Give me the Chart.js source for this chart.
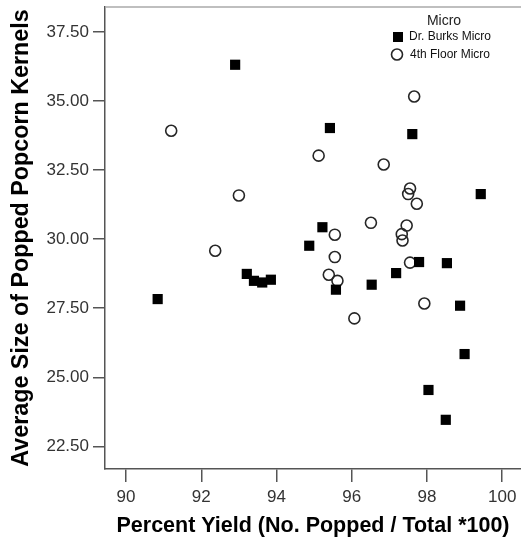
<!DOCTYPE html>
<html>
<head>
<meta charset="utf-8">
<script src="https://cdn.jsdelivr.net/npm/chart.js@4/dist/chart.umd.min.js"></script>
<style>
  body { margin: 0; background: #fff; }
  canvas { display: block; }
</style>
</head>
<body>
<canvas id="scatterCanvas" width="521" height="544"></canvas>
<script>
// Dr. Burks microwave
const burksX = [92.90, 95.42, 97.61, 99.43, 90.84, 93.21, 93.40, 93.62, 93.85, 94.87, 95.22, 95.58, 96.53, 97.18, 97.79, 98.53, 98.88, 99.00, 98.04, 98.50];
const burksY = [36.31, 34.02, 33.80, 31.63, 27.83, 28.74, 28.49, 28.43, 28.53, 29.76, 30.43, 28.17, 28.35, 28.77, 29.17, 29.13, 27.59, 25.84, 24.54, 23.46];

// 4th floor microwave
const floorX = [91.20, 93.00, 97.66, 95.12, 96.85, 97.55, 97.50, 97.73, 96.51, 97.46, 97.33, 97.35, 95.55, 95.55, 95.39, 95.62, 97.55, 97.93, 96.07, 92.37];
const floorY = [33.92, 31.58, 35.16, 33.02, 32.70, 31.83, 31.63, 31.28, 30.59, 30.49, 30.18, 29.95, 30.16, 29.35, 28.71, 28.49, 29.15, 27.67, 27.13, 29.58];

const seriesNames = ["Dr. Burks Micro", "4th Floor Micro"];
const xTicks = [90, 92, 94, 96, 98, 100];
const yTicks = [22.5, 25, 27.5, 30, 32.5, 35, 37.5];

const toPoints = (xs, ys) => xs.map((x, i) => ({ x: x, y: ys[i] }));

const FONT = "'Liberation Sans', Arial, sans-serif";

// keep the axes from reserving room for overhanging labels
function noPadding(scale) {
  scale.paddingLeft = 0;
  scale.paddingRight = 0;
  scale.paddingTop = 0;
  scale.paddingBottom = 0;
}

// legend box in the upper right corner of the plot
const microLegend = {
  id: 'microLegend',
  afterDatasetsDraw(chart) {
    const ctx = chart.ctx;
    const area = chart.chartArea;
    const ds = chart.data.datasets;
    ctx.save();
    ctx.fillStyle = '#222';
    ctx.textBaseline = 'middle';
    ctx.textAlign = 'center';
    ctx.font = '14px ' + FONT;
    ctx.fillText('Micro', area.right - 77, area.top + 14);

    ctx.textAlign = 'left';
    ctx.font = '12px ' + FONT;
    // square marker
    ctx.fillStyle = ds[0].backgroundColor;
    ctx.fillRect(area.right - 128, area.top + 25, 10, 10);
    ctx.fillStyle = '#111';
    ctx.fillText(ds[0].label, area.right - 112, area.top + 30);
    // circle marker
    ctx.beginPath();
    ctx.arc(area.right - 124, area.top + 47.5, 5.5, 0, Math.PI * 2);
    ctx.lineWidth = ds[1].borderWidth;
    ctx.strokeStyle = ds[1].borderColor;
    ctx.stroke();
    ctx.fillText(ds[1].label, area.right - 111, area.top + 48);
    ctx.restore();
  }
};

// thin grey line along the top of the plot
const topFrame = {
  id: 'topFrame',
  beforeDatasetsDraw(chart) {
    const ctx = chart.ctx;
    const a = chart.chartArea;
    ctx.save();
    ctx.strokeStyle = '#aaa';
    ctx.lineWidth = 1.5;
    ctx.beginPath();
    ctx.moveTo(a.left, a.top);
    ctx.lineTo(a.right, a.top);
    ctx.stroke();
    ctx.restore();
  }
};

const scatterChart = new Chart(document.getElementById('scatterCanvas'), {
  type: 'scatter',
  data: {
    datasets: [{
      label: seriesNames[0],
      data: toPoints(burksX, burksY),
      pointStyle: 'rect',
      pointRadius: 7.2,
      backgroundColor: '#000',
      borderColor: '#000',
      borderWidth: 0
    }, {
      label: seriesNames[1],
      data: toPoints(floorX, floorY),
      pointStyle: 'circle',
      pointRadius: 5.5,
      backgroundColor: 'rgba(0,0,0,0)',
      borderColor: '#262626',
      borderWidth: 1.6
    }]
  },
  options: {
    responsive: false,
    animation: false,
    devicePixelRatio: 1,
    events: [],
    layout: { autoPadding: false, padding: { top: 7, left: 0, right: 0, bottom: 0 } },
    plugins: {
      legend: { display: false },
      title: { display: false },
      tooltip: { enabled: false }
    },
    scales: {
      x: {
        type: 'linear',
        min: 89.44,
        max: 100.5,
        afterBuildTicks: scale => { scale.ticks = xTicks.map(v => ({ value: v })); },
        afterFit: scale => {
          scale.height = 75;
          noPadding(scale);
        },
        grid: { drawOnChartArea: false, drawTicks: true, tickLength: 13, color: '#555', lineWidth: 1.5 },
        border: { display: true, color: '#555', width: 1.5 },
        ticks: { color: '#333', padding: 5, font: { family: FONT, size: 17 } },
        title: {
          display: true,
          text: 'Percent Yield (No. Popped / Total *100)',
          color: '#000',
          padding: { top: 0, bottom: 5 },
          font: { family: FONT, size: 21.5, weight: 'bold' }
        }
      },
      y: {
        type: 'linear',
        min: 21.68,
        max: 38.40,
        afterBuildTicks: scale => { scale.ticks = yTicks.map(v => ({ value: v })); },
        afterFit: scale => {
          scale.width = 105;
          noPadding(scale);
        },
        grid: { drawOnChartArea: false, drawTicks: true, tickLength: 12, color: '#555', lineWidth: 1.5 },
        border: { display: true, color: '#555', width: 1.5 },
        ticks: {
          color: '#333',
          padding: 4,
          font: { family: FONT, size: 17 },
          callback: v => v.toFixed(2)
        },
        title: {
          display: true,
          text: 'Average Size of Popped Popcorn Kernels',
          color: '#000',
          padding: { top: 8, bottom: 0 },
          font: { family: FONT, size: 23.3, weight: 'bold' }
        }
      }
    }
  },
  plugins: [topFrame, microLegend]
});
</script>
</body>
</html>
